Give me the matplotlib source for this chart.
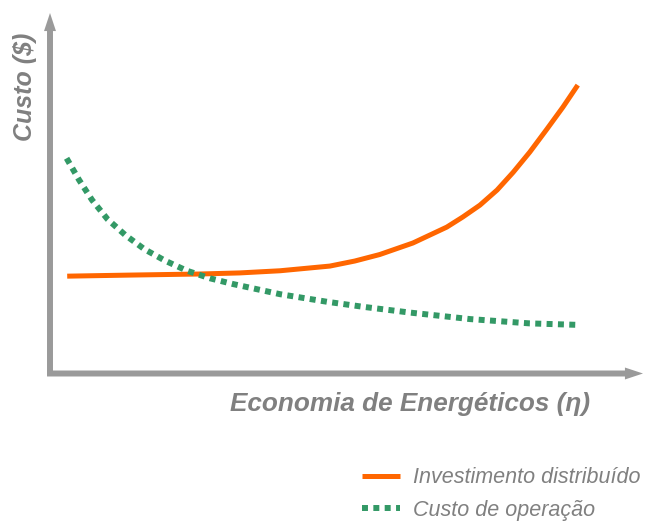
import matplotlib
matplotlib.use("Agg")
import matplotlib.pyplot as plt

# Data (arbitrary units: x = energy savings, y = cost)
inv_x = [2.9, 13.5, 25.3, 32.0, 38.8, 47.2, 51.4, 55.6, 61.2, 66.9, 69.6, 72.5,
         75.4, 78.1, 80.9, 83.8, 86.5, 89.0]
inv_y = [27.0, 27.3, 27.6, 27.9, 28.5, 29.8, 31.2, 33.0, 36.2, 40.6, 43.4, 46.7,
         50.9, 55.8, 61.4, 67.8, 73.9, 80.0]

op_x = [2.8, 4.9, 7.1, 9.7, 12.7, 15.9, 19.4, 23.1, 27.0, 30.9, 38.8, 46.7,
        52.8, 60.7, 70.8, 80.9, 88.8]
op_y = [59.7, 53.7, 48.1, 42.8, 38.4, 34.5, 31.3, 28.5, 26.4, 24.8, 22.0, 19.9,
        18.5, 16.9, 15.1, 13.9, 13.5]

labels = ["Investimento distribuído", "Custo de operação"]
xlabel = "Economia de Energéticos (η)"
ylabel = "Custo ($)"

ORANGE = "#FF6600"
GREEN = "#339966"
AXIS = "#9a9a9a"
TEXT = "#808080"

W, H = 646, 524
fig = plt.figure(figsize=(W / 100, H / 100), dpi=100)
fig.patch.set_facecolor("white")

x0, x1 = 50, 643
y0, y1 = 373.5, 13
ax = fig.add_axes([x0 / W, (H - y0) / H, (x1 - x0) / W, (y0 - y1) / H])
ax.set_xlim(0, 100)
ax.set_ylim(0, 100)
for s in ax.spines.values():
    s.set_visible(False)
ax.set_xticks([])
ax.set_yticks([])
ax.patch.set_alpha(0)

# axes arrows
arrow = dict(width=4.3, headwidth=8.6, headlength=13, shrink=0,
             facecolor=AXIS, edgecolor="none")
ax.annotate("", xy=(1.0, 0), xytext=(-0.005, 0), xycoords="axes fraction",
            textcoords="axes fraction", arrowprops=arrow, annotation_clip=False)
ax.annotate("", xy=(0, 1.0), xytext=(0, -0.005), xycoords="axes fraction",
            textcoords="axes fraction", arrowprops=arrow, annotation_clip=False)

l1, = ax.plot(inv_x, inv_y, color=ORANGE, lw=3.6, solid_capstyle="butt",
              solid_joinstyle="round", label=labels[0])
l2, = ax.plot(op_x, op_y, color=GREEN, lw=4.3, linestyle=(0, (1, 0.9)),
              dash_capstyle="butt", label=labels[1])

fam = ["Liberation Sans", "DejaVu Sans"]
fig.text(25 / W, 1 - 87 / H, ylabel, rotation=90, ha="center", va="center",
         fontsize=18, fontweight="bold", fontstyle="italic", color=TEXT,
         family=fam)
fig.text(410 / W, 1 - 404 / H, xlabel, ha="center", va="center",
         fontsize=18.8, fontweight="bold", fontstyle="italic", color=TEXT,
         family=fam)

leg = fig.legend(handles=[l1, l2], labels=labels, loc="center left",
                 bbox_to_anchor=(362 / W, 1 - 494 / H),
                 bbox_transform=fig.transFigure, frameon=False,
                 borderpad=0, borderaxespad=0, handlelength=1.75,
                 handletextpad=0.6, labelspacing=0.55,
                 prop=dict(family=fam, style="italic", size=15.5),
                 labelcolor=TEXT)

fig.savefig("out.png", dpi=100)
